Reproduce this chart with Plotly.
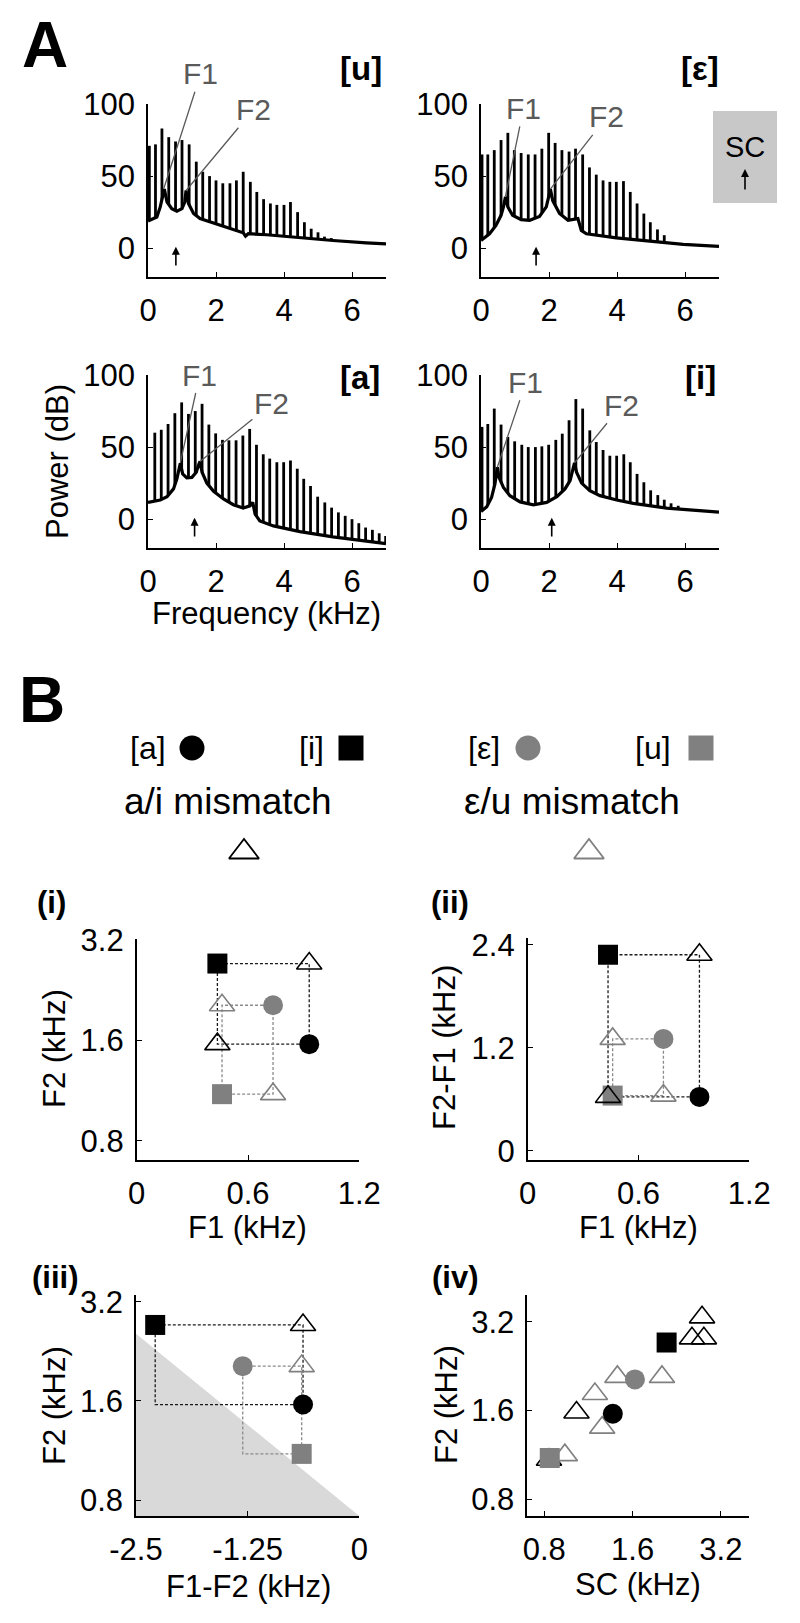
import math
import plotly.graph_objects as go

W, H = 800, 1623
FONT = "Liberation Sans, Arial, Helvetica, sans-serif"
GRAY = "#808080"
LABEL_GRAY = "#5a5a5a"

# ======================= Panel A data (spectra) =======================
spec_names = ["[u]", "[ε]", "[a]", "[i]"]

# harmonic frequencies (kHz) and levels (dB)
u_harm_f = [0.04, 0.22, 0.41, 0.61, 0.81, 1.00, 1.21, 1.42, 1.61, 1.81, 2.00, 2.20, 2.41, 2.60,
            2.80, 3.01, 3.20, 3.40, 3.60, 3.79, 4.00, 4.19, 4.40, 4.60, 4.80, 5.00, 5.19, 5.39]
u_harm_db = [71, 72, 83, 77, 74, 75, 72, 60, 53, 50, 47, 45, 45, 47,
             53, 46, 39, 34, 31, 30, 30, 32, 25, 18, 13.5, 11, 8, 7]
e_harm_f = [0.03, 0.20, 0.39, 0.59, 0.79, 0.98, 1.18, 1.39, 1.59, 1.79, 1.99, 2.18, 2.38, 2.59,
            2.78, 2.99, 3.19, 3.39, 3.59, 3.79, 3.98, 4.19, 4.39, 4.59, 4.79, 4.98, 5.19, 5.39]
e_harm_db = [65, 65, 68, 75, 80, 68, 66, 65, 65, 69, 80, 73, 68, 67,
             69, 65, 56, 51, 47, 46, 46, 46.5, 39, 31, 24, 18, 13, 9]
a_harm_f = [0.20, 0.39, 0.59, 0.79, 0.99, 1.19, 1.39, 1.59, 1.79, 1.99, 2.19, 2.38, 2.59, 2.79,
            2.99, 3.19, 3.39, 3.58, 3.79, 3.99, 4.19, 4.39, 4.58, 4.78, 4.99, 5.20, 5.40, 5.60,
            5.80, 6.00, 6.20, 6.40, 6.60, 6.80, 6.99]
a_harm_db = [60, 62, 66, 73.5, 81, 73, 75, 80, 65.6, 59.5, 55, 54.7, 54.7, 58,
             62.6, 51.6, 45, 42, 39.5, 39.5, 40.7, 35, 28, 23, 15.6, 11.6, 8, 4.7,
             2.3, 0, -2.8, -5.8, -7.4, -9.8, -11.6]
i_harm_f = [0.03, 0.20, 0.39, 0.59, 0.79, 0.99, 1.20, 1.39, 1.60, 1.79, 1.99, 2.20, 2.39, 2.59,
            2.79, 2.99, 3.20, 3.39, 3.59, 3.79, 3.99, 4.20, 4.39, 4.59, 4.79, 4.99, 5.20, 5.39,
            5.59, 5.80, 5.99, 6.20]
i_harm_db = [64, 66, 76.7, 65.6, 57, 54, 51.6, 50, 50, 50.5, 51.6, 55, 59.3, 68.6,
             83.3, 76.7, 61.6, 53.5, 48, 44, 44, 45, 39.5, 31.4, 25.6, 20, 16.7, 13.5,
             11, 9.3, 7.7, 6.3]

# spectral envelopes (kHz, dB)
u_env_f = [0, 0.26, 0.36, 0.44, 0.48, 0.56, 0.70, 0.85, 1.00, 1.08, 1.12, 1.19, 1.34, 1.53,
           2.02, 2.51, 2.80, 2.87, 2.95, 3.49, 4.47, 5.44, 6.42, 7.0]
u_env_db = [18.8, 21.6, 28.6, 35.6, 41, 32, 27.4, 25.6, 27.4, 32, 40, 31, 24, 20.5,
            16.5, 12.8, 10.7, 8.4, 10, 9.3, 7.2, 5.3, 3.7, 3]
e_env_f = [0, 0.25, 0.44, 0.59, 0.66, 0.72, 0.79, 0.93, 1.18, 1.43, 1.72, 1.92, 1.99, 2.04,
           2.11, 2.31, 2.56, 2.75, 2.85, 2.95, 3.10, 3.98, 4.97, 5.95, 7.0]
e_env_db = [5.3, 10, 15.8, 22.8, 28.6, 35.6, 28.6, 22.8, 19.8, 19.3, 22, 28.6, 35.6, 41,
            33, 24, 19.3, 19.8, 20.5, 12.3, 10, 7.2, 4.9, 2.6, 1.2]
a_env_f = [0, 0.36, 0.56, 0.75, 0.85, 0.92, 0.95, 1.02, 1.14, 1.29, 1.42, 1.50, 1.53, 1.59,
           1.73, 1.93, 2.22, 2.51, 2.80, 3.00, 3.08, 3.15, 3.29, 3.69, 4.47, 5.44, 6.42, 7.0]
a_env_db = [11.6, 13.3, 15.6, 21, 28, 36, 38.8, 31.4, 28.6, 29, 32.6, 38.4, 40, 32.6,
            25, 19.3, 14, 10, 7.7, 9.3, 11.6, 3.5, -1.2, -4.7, -8.6, -12.3, -15.6, -17]
i_env_f = [0, 0.17, 0.31, 0.41, 0.46, 0.48, 0.53, 0.66, 0.85, 1.15, 1.54, 1.93, 2.23, 2.47,
           2.62, 2.70, 2.75, 2.81, 2.96, 3.20, 3.50, 3.99, 4.48, 5.46, 6.44, 7.0]
i_env_db = [5.3, 8.6, 15, 24.4, 32.6, 36, 29, 22, 16.3, 12, 10, 11.6, 15.6, 21,
            26.7, 33.7, 39, 32.6, 25, 19.8, 16.3, 13.3, 11, 7.7, 5.8, 4.9]

# spectral centroid (arrow) per spectrum, kHz
sc_khz_A = [0.82, 1.62, 1.37, 2.08]
# formant pointer targets (kHz, dB)
F1_khz_A = [0.46, 0.72, 0.95, 0.48]
F1_db_A = [41, 36, 39, 36]
F2_khz_A = [1.12, 2.04, 1.53, 2.75]
F2_db_A = [40, 41, 40, 39]

# ======================= Panel B data =======================
vowels = ["[a]", "[i]", "[ε]", "[u]"]
F1_khz = [0.93, 0.435, 0.735, 0.46]
F2_khz = [1.56, 2.72, 2.04, 1.105]
SC_khz = [1.37, 2.09, 1.63, 0.835]
# mismatch stimuli in (iv)
mm_ai_sc = [2.76, 2.55, 2.80, 1.03, 0.83]
mm_ai_f2 = [3.31, 2.81, 2.81, 1.575, 1.09]
mm_eu_sc = [1.42, 2.015, 1.19, 1.26, 0.94]
mm_eu_f2 = [2.08, 2.08, 1.82, 1.40, 1.13]
# shaded (impossible) region in (iii)
shade_x = [-2.5, -2.5, 0]
shade_y = [2.56, 0.716, 0.716]

# ======================= helpers =======================
def xr_(n): return "x" if n == 1 else f"x{n}"
def yr_(n): return "y" if n == 1 else f"y{n}"
def xk_(n): return "xaxis" if n == 1 else f"xaxis{n}"
def yk_(n): return "yaxis" if n == 1 else f"yaxis{n}"
def PX(x): return x / W
def PY(y): return 1 - y / H


def safe_standoff(v):
    try:
        go.layout.XAxis(ticklabelstandoff=v)
        return v
    except Exception:
        return 0


fig = go.Figure()
layout = {}
annotations = []
shapes = []


def set_axes(n, box, xrange, yrange, xtv, xtt, ytv, ytt, xtype="linear", ytype="linear", fs=31,
             xstand=5, ystand=5):
    x0, x1, y0, y1 = box
    common = dict(showline=True, linecolor="black", linewidth=1.6, ticks="inside", ticklen=5,
                  tickwidth=1.2, tickcolor="black", showgrid=False, zeroline=False, automargin=False,
                  tickfont=dict(family=FONT, size=fs, color="black"), fixedrange=True)
    layout[xk_(n)] = dict(common, domain=[PX(x0), PX(x1)], anchor=yr_(n), range=xrange, type=xtype,
                          tickmode="array", tickvals=xtv, ticktext=xtt,
                          ticklabelstandoff=safe_standoff(xstand))
    layout[yk_(n)] = dict(common, domain=[PY(y1), PY(y0)], anchor=xr_(n), range=yrange, type=ytype,
                          tickmode="array", tickvals=ytv, ticktext=ytt,
                          ticklabelstandoff=safe_standoff(ystand))


def text(x, y, s, size, bold=False, color="black", angle=0, xanchor="center"):
    annotations.append(dict(x=PX(x), y=PY(y), xref="paper", yref="paper", text=f"<b>{s}</b>" if bold else s,
                            showarrow=False, textangle=angle, xanchor=xanchor, yanchor="middle",
                            font=dict(family=FONT, size=size, color=color)))


# ======================= Panel A =======================
A_boxes = [(148, 386, 104, 277), (481, 719, 104, 277), (148, 386, 375, 548), (481, 719, 375, 548)]
harms = [(u_harm_f, u_harm_db), (e_harm_f, e_harm_db), (a_harm_f, a_harm_db), (i_harm_f, i_harm_db)]
envs = [(u_env_f, u_env_db), (e_env_f, e_env_db), (a_env_f, a_env_db), (i_env_f, i_env_db)]
name_pos = [(384, 68), (721, 68), (382, 377), (718, 377)]
f1_lbl = [(1.55, 121), (1.25, 97), (1.52, 100), (1.32, 95)]
f2_lbl = [(3.1, 96), (3.7, 91), (3.63, 80), (4.14, 79)]
YMIN = -20

for k in range(4):
    n = k + 1
    set_axes(n, A_boxes[k], [0, 7], [YMIN, 100], [0, 2, 4, 6], ["0", "2", "4", "6"],
             [0, 50, 100], ["0", "50", "100"], fs=31)
    hf, hd = harms[k]
    bx, by = [], []
    for f, d in zip(hf, hd):
        bx += [f, f, None]
        by += [YMIN, d, None]
    fig.add_trace(go.Scatter(x=bx, y=by, mode="lines", line=dict(color="black", width=2.8),
                             xaxis=xr_(n), yaxis=yr_(n), showlegend=False, hoverinfo="skip"))
    ef, ed = envs[k]
    fig.add_trace(go.Scatter(x=[ef[0], ef[-1]], y=[YMIN, YMIN], mode="lines", line=dict(width=0),
                             xaxis=xr_(n), yaxis=yr_(n), showlegend=False, hoverinfo="skip"))
    fig.add_trace(go.Scatter(x=ef, y=ed, mode="lines", fill="tonexty", fillcolor="white",
                             line=dict(color="black", width=3.2),
                             xaxis=xr_(n), yaxis=yr_(n), showlegend=False, hoverinfo="skip"))
    text(name_pos[k][0], name_pos[k][1], spec_names[k], 33, bold=True, xanchor="right")
    for (fx, fy, (lx, ly), lab) in [(F1_khz_A[k], F1_db_A[k], f1_lbl[k], "F1"),
                                    (F2_khz_A[k], F2_db_A[k], f2_lbl[k], "F2")]:
        annotations.append(dict(x=fx, y=fy, xref=xr_(n), yref=yr_(n), ax=lx, ay=ly,
                                axref=xr_(n), ayref=yr_(n), text=lab, showarrow=True,
                                arrowhead=0, arrowwidth=1.3, arrowcolor=LABEL_GRAY, standoff=0,
                                font=dict(family=FONT, size=30, color=LABEL_GRAY)))
    annotations.append(dict(x=sc_khz_A[k], y=1, xref=xr_(n), yref=yr_(n), ax=sc_khz_A[k], ay=-13,
                            axref=xr_(n), ayref=yr_(n), text="", showarrow=True, arrowhead=2,
                            arrowsize=1, arrowwidth=1.6, arrowcolor="black"))

# SC key box
shapes.append(dict(type="rect", xref="paper", yref="paper", x0=PX(713), x1=PX(777), y0=PY(203), y1=PY(111),
                   fillcolor="#c8c8c8", line=dict(width=0), layer="below"))
text(745, 147, "SC", 29)
annotations.append(dict(x=PX(745), y=PY(169), xref="paper", yref="paper", ax=0, ay=22, text="",
                        showarrow=True, arrowhead=2, arrowsize=1, arrowwidth=1.6, arrowcolor="black"))

text(45, 45, "A", 64, bold=True)
text(57, 461, "Power (dB)", 31, angle=-90)
text(266, 613, "Frequency (kHz)", 31)

# ======================= Panel B =======================
text(42, 700, "B", 64, bold=True)

layout["xaxis9"] = dict(domain=[0, 1], range=[0, W], visible=False, fixedrange=True, anchor="y9", automargin=False)
layout["yaxis9"] = dict(domain=[0, 1], range=[H, 0], visible=False, fixedrange=True, anchor="x9", automargin=False)
leg_text_x = [148, 311, 484, 653]
leg_mark_x = [192, 351, 528, 701]
vsym = ["circle", "square", "circle", "square"]
vcol = ["black", "black", GRAY, GRAY]
for j in range(4):
    text(leg_text_x[j], 748, vowels[j], 32)
    fig.add_trace(go.Scatter(x=[leg_mark_x[j]], y=[748], mode="markers", xaxis="x9", yaxis="y9",
                             marker=dict(symbol=vsym[j], size=25, color=vcol[j], line=dict(width=0)),
                             showlegend=False, hoverinfo="skip"))
text(228, 801, "a/i mismatch", 37)
text(572, 801, "ε/u mismatch", 37)
fig.add_trace(go.Scatter(x=[244, 589], y=[852, 852], mode="markers", xaxis="x9", yaxis="y9",
                         marker=dict(symbol="triangle-up-open", size=26, color=["black", GRAY],
                                     line=dict(width=1.8, color=["black", GRAY])),
                         showlegend=False, hoverinfo="skip"))

L = math.log10
B_boxes = {5: (136.7, 359.3, 939, 1160), 6: (527.7, 749.3, 938, 1160),
           7: (136, 359.3, 1295, 1516), 8: (527.3, 749.3, 1295, 1516)}
logt = [0.8, 1.6, 3.2]
logtt = ["0.8", "1.6", "3.2"]
set_axes(5, B_boxes[5], [0, 1.2], [L(0.7016), L(3.222)], [0, 0.6, 1.2], ["0", "0.6", "1.2"],
         logt, logtt, ytype="log")
set_axes(6, B_boxes[6], [0, 1.2], [-0.105, 2.48], [0, 0.6, 1.2], ["0", "0.6", "1.2"],
         [0, 1.2, 2.4], ["0", "1.2", "2.4"])
set_axes(7, B_boxes[7], [-2.5, 0], [L(0.716), L(3.353)], [-2.5, -1.25, 0], ["-2.5", "-1.25", "0"],
         logt, logtt, ytype="log")
set_axes(8, B_boxes[8], [L(0.70), L(4.0)], [L(0.703), L(3.94)], logt, logtt,
         logt, logtt, xtype="log", ytype="log")

fig.add_trace(go.Scatter(x=shade_x, y=shade_y, mode="lines", fill="toself", fillcolor="#d9d9d9",
                         line=dict(width=0), xaxis="x7", yaxis="y7", showlegend=False, hoverinfo="skip"))

ia, ii, ie, iu = 0, 1, 2, 3
D_khz = [f2 - f1 for f1, f2 in zip(F1_khz, F2_khz)]          # F2-F1
X_khz = [f1 - f2 for f1, f2 in zip(F1_khz, F2_khz)]          # F1-F2


def rect_panel(n, xs, ys, hide_impossible=False):
    pairs = [((ia, ii), "#1a1a1a", "black"), ((ie, iu), "#8a8a8a", GRAY)]
    tri = []
    for (p, q), lcol, mcol in pairs:
        cx = [xs[p], xs[q], xs[q], xs[p], xs[p]]
        cy = [ys[p], ys[p], ys[q], ys[q], ys[p]]
        fig.add_trace(go.Scatter(x=cx, y=cy, mode="lines", line=dict(color=lcol, width=1.3, dash="3px,2px"),
                                 xaxis=xr_(n), yaxis=yr_(n), showlegend=False, hoverinfo="skip"))
        tx = [xs[q], xs[p]]
        ty = [ys[p], ys[q]]
        if hide_impossible:
            keep = [(a, b) for a, b in zip(tx, ty) if a + b > 0]
            tx = [a for a, b in keep]
            ty = [b for a, b in keep]
        tri.append((tx, ty, mcol))
    for j in range(4):
        fig.add_trace(go.Scatter(x=[xs[j]], y=[ys[j]], mode="markers", xaxis=xr_(n), yaxis=yr_(n),
                                 marker=dict(symbol=vsym[j], size=20, color=vcol[j], line=dict(width=0)),
                                 showlegend=False, hoverinfo="skip", cliponaxis=False))
    for tx, ty, mcol in tri:
        fig.add_trace(go.Scatter(x=tx, y=ty, mode="markers", xaxis=xr_(n), yaxis=yr_(n),
                                 marker=dict(symbol="triangle-up-open", size=22, color=mcol,
                                             line=dict(width=1.6, color=mcol)),
                                 showlegend=False, hoverinfo="skip", cliponaxis=False))


rect_panel(5, F1_khz, F2_khz)
rect_panel(6, F1_khz, D_khz)
rect_panel(7, X_khz, F2_khz, hide_impossible=True)

fig.add_trace(go.Scatter(x=mm_ai_sc, y=mm_ai_f2, mode="markers", xaxis="x8", yaxis="y8",
                         marker=dict(symbol="triangle-up-open", size=22, color="black", line=dict(width=1.6, color="black")),
                         showlegend=False, hoverinfo="skip", cliponaxis=False))
fig.add_trace(go.Scatter(x=mm_eu_sc, y=mm_eu_f2, mode="markers", xaxis="x8", yaxis="y8",
                         marker=dict(symbol="triangle-up-open", size=22, color=GRAY, line=dict(width=1.6, color=GRAY)),
                         showlegend=False, hoverinfo="skip", cliponaxis=False))
for j in range(4):
    fig.add_trace(go.Scatter(x=[SC_khz[j]], y=[F2_khz[j]], mode="markers", xaxis="x8", yaxis="y8",
                             marker=dict(symbol=vsym[j], size=20, color=vcol[j], line=dict(width=0)),
                             showlegend=False, hoverinfo="skip", cliponaxis=False))

text(51, 902, "(i)", 31, bold=True)
text(450, 902, "(ii)", 31, bold=True)
text(55, 1277, "(iii)", 31, bold=True)
text(455, 1277, "(iv)", 31, bold=True)
text(54, 1049, "F2 (kHz)", 31, angle=-90)
text(444, 1048, "F2-F1 (kHz)", 31, angle=-90)
text(54, 1406, "F2 (kHz)", 31, angle=-90)
text(446, 1405, "F2 (kHz)", 31, angle=-90)
text(247, 1227, "F1 (kHz)", 31)
text(638, 1227, "F1 (kHz)", 31)
text(248, 1586, "F1-F2 (kHz)", 31)
text(638, 1584, "SC (kHz)", 31)

fig.update_layout(**layout)
fig.update_layout(template="none", width=W, height=H,
                  margin=dict(l=0, r=0, t=0, b=0, pad=0, autoexpand=False), paper_bgcolor="white",
                  plot_bgcolor="rgba(0,0,0,0)", showlegend=False, annotations=annotations, shapes=shapes,
                  font=dict(family=FONT, color="black"))
fig.write_html("out.html", config={"displayModeBar": False},
               post_script="document.body.style.margin='0';")
